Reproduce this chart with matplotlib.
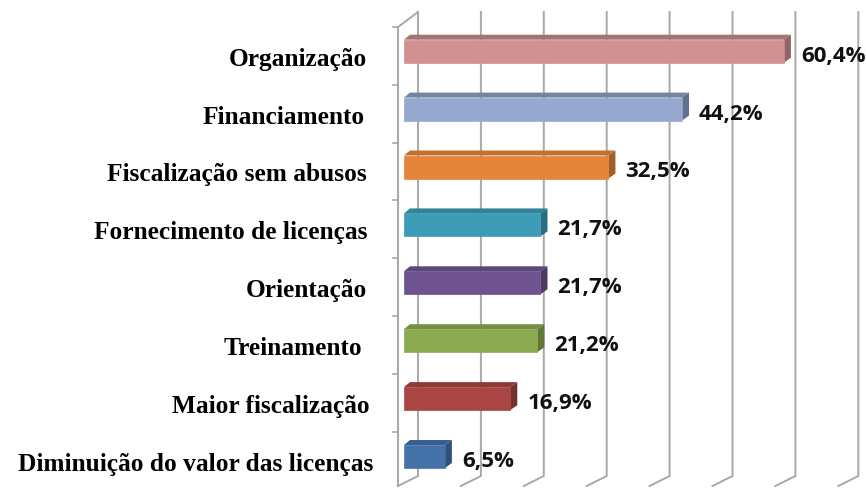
import matplotlib
matplotlib.use('Agg')
import matplotlib.pyplot as plt
from matplotlib.patches import Polygon

categories = ['Diminuição do valor das licenças', 'Maior fiscalização', 'Treinamento', 'Orientação',
              'Fornecimento de licenças', 'Fiscalização sem abusos', 'Financiamento', 'Organização']
values = [6.5, 16.9, 21.2, 21.7, 21.7, 32.5, 44.2, 60.4]
value_labels = ['6,5%', '16,9%', '21,2%', '21,7%', '21,7%', '32,5%', '44,2%', '60,4%']
grid_values = [0, 10, 20, 30, 40, 50, 60, 70]

front_colors = ['#4472A8', '#A94543', '#8BAA4F', '#6F5391', '#3C9BB5', '#E3853B', '#95A9D0', '#D39090']
top_colors = ['#38608F', '#8F3A38', '#748E42', '#5D4679', '#328399', '#C27030', '#7484A3', '#A87272']
side_colors = ['#2F5078', '#733030', '#617737', '#4D3A65', '#2A6D80', '#A25E28', '#61708F', '#946363']
label_right = [373, 370, 362, 367, 367, 367, 365, 367]

W, H = 866, 488
x0_px, y0_px = 404, 456.5
sx, sy = 6.29, 57.9   # pixels per percent, pixels per category

fig = plt.figure(figsize=(W / 100, H / 100), dpi=100)
ax = fig.add_axes([0, 0, 1, 1])
ax.set_xlim(-x0_px / sx, (W - x0_px) / sx)
ax.set_ylim((y0_px - H) / sy, y0_px / sy)
ax.axis('off')

dx = 1 / sx
dy = 1 / sy
grid_color = '#A8A8A8'

# back wall, floor and front axis of the fake 3d box
for g in grid_values:
    ax.plot([g + 14 * dx, g + 14 * dx, g - 6 * dx], [y0_px * dy - 12 * dy, -19.5 * dy, -29.5 * dy],
            color=grid_color, lw=1.4, zorder=1, solid_joinstyle='miter')
ax.plot([-6 * dx, -6 * dx, 14 * dx], [-29.5 * dy, y0_px * dy - 27 * dy, y0_px * dy - 12 * dy],
        color=grid_color, lw=1.4, zorder=1)
for i in range(len(categories) + 1):
    y = (i - 0.5) - 4.5 * dy
    ax.plot([-11 * dx, -6 * dx], [y, y], color=grid_color, lw=1.2, zorder=1)

half = 11.5 * dy
for i, (v, lab) in enumerate(zip(values, value_labels)):
    top = i + half
    bot = i - half
    ax.add_patch(Polygon([(0, top), (6 * dx, top + 5 * dy), (v + 7 * dx, top + 5 * dy), (v, top)],
                         fc=top_colors[i], ec='none', zorder=3))
    ax.add_patch(Polygon([(v, bot), (v + 7 * dx, bot + 5 * dy), (v + 7 * dx, top + 5 * dy), (v, top)],
                         fc=side_colors[i], ec='none', zorder=3))
    ax.barh(i, v, height=2 * half, color=front_colors[i], edgecolor=front_colors[i], linewidth=0.5, zorder=4)
    ax.text(v + 17 * dx, i - 5 * dy, lab, family='Open Sans', fontweight='bold', fontsize=16,
            color='#111111', ha='left', va='center', zorder=5)
    ax.text((label_right[i] - x0_px) * dx, i - 8 * dy, categories[i], family='Liberation Serif',
            fontweight='bold', fontsize=18.3, color='black', ha='right', va='center', zorder=5)

plt.savefig('out.png', dpi=100)
